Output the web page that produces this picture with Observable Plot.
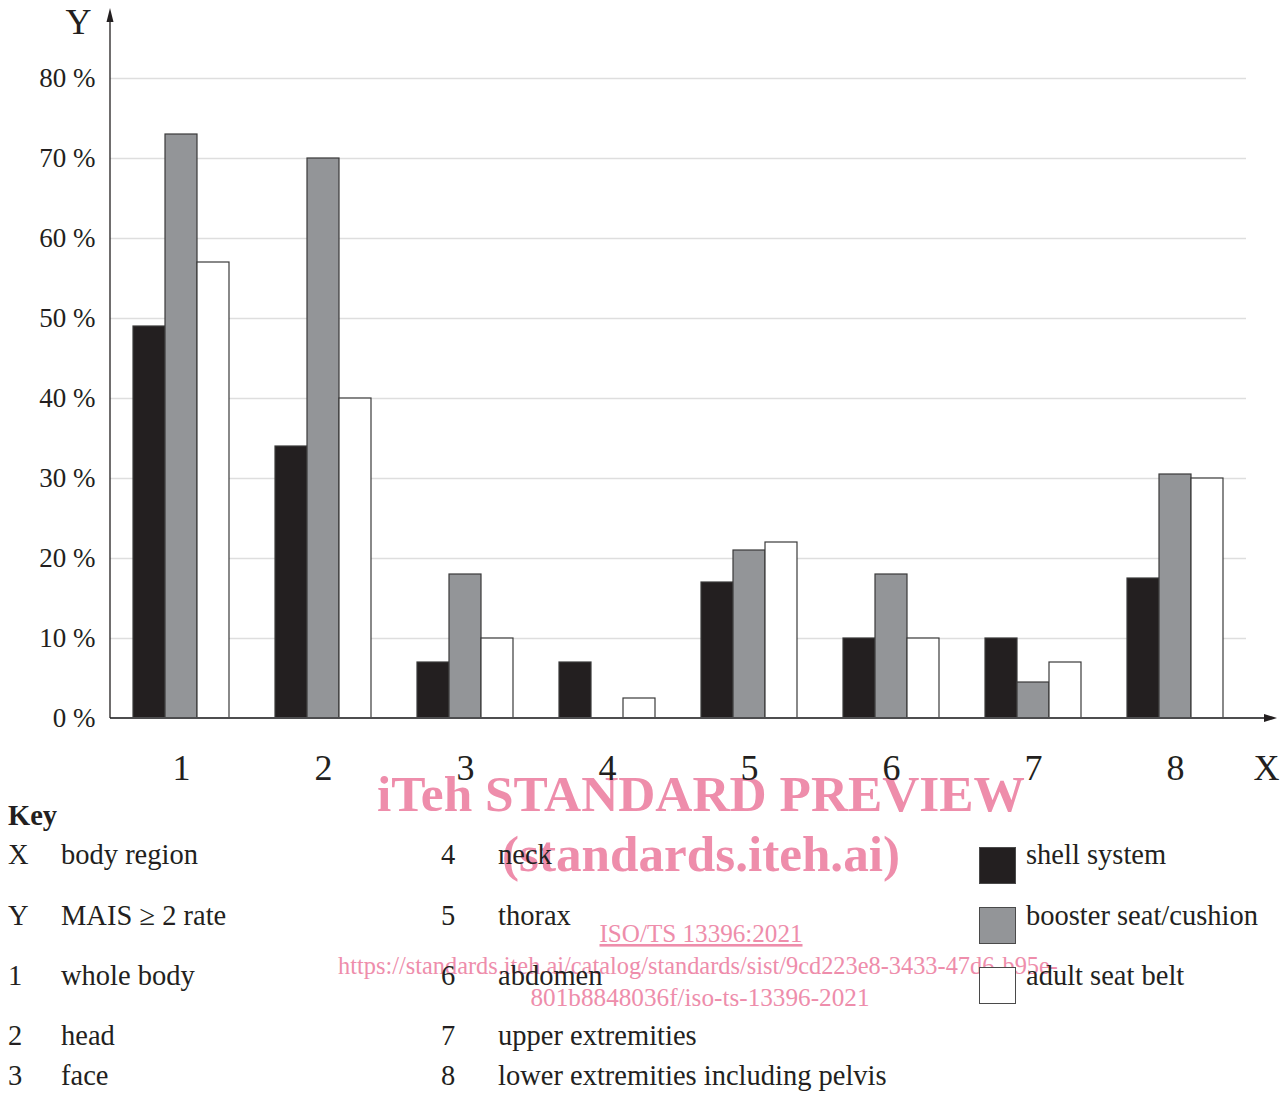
<!DOCTYPE html>
<html><head><meta charset="utf-8">
<script src="https://cdn.jsdelivr.net/npm/d3@7"></script>
<script src="https://cdn.jsdelivr.net/npm/@observablehq/plot@0.6"></script>
<style>
body{margin:0;background:#fff;}
#wrap{position:relative;width:1283px;height:1095px;overflow:hidden;font-family:"Liberation Serif",serif;color:#231f20;}
.layer{position:absolute;left:0;top:0;}
.k{position:absolute;font-size:28.5px;line-height:1;white-space:nowrap;transform:translateY(-50%);}
.sw{position:absolute;width:35px;height:35px;border:1.5px solid #4a4a4a;}
</style></head><body><div id="wrap"></div>
<script>
// ---- data ----
const groups = ["1","2","3","4","5","6","7","8"];
const seriesNames = ["shell system","booster seat/cushion","adult seat belt"];
const shellSystem = [49, 34, 7, 7, 17, 10, 10, 17.5];
const boosterSeat = [73, 70, 18, 0, 21, 18, 4.5, 30.5];
const adultSeatBelt = [57, 40, 10, 2.5, 22, 10, 7, 30];
const seriesColors = ["#231f20", "#939598", "#ffffff"];
const yTicks = [0, 10, 20, 30, 40, 50, 60, 70, 80];
const xAxisLabel = "X";
const yAxisLabel = "Y";
const keyTitle = "Key";
const keyLeftSymbols = ["X", "Y", "1", "2", "3"];
const keyLeftLabels = ["body region", "MAIS \u2265 2 rate", "whole body", "head", "face"];
const keyMidSymbols = ["4", "5", "6", "7", "8"];
const keyMidLabels = ["neck", "thorax", "abdomen", "upper extremities", "lower extremities including pelvis"];
const watermark1 = "iTeh STANDARD PREVIEW";
const watermark2 = "(standards.iteh.ai)";
const watermark3 = "ISO/TS 13396:2021";
const watermark4 = "https://standards.iteh.ai/catalog/standards/sist/9cd223e8-3433-47d6-b95e-";
const watermark5 = "801b8848036f/iso-ts-13396-2021";

const valuesBySeries = [shellSystem, boosterSeat, adultSeatBelt];
const rows = groups.flatMap((g, i) => seriesNames.map((s, j) => ({group: g, series: s, value: valuesBySeries[j][i]})));

const wrap = document.getElementById("wrap");
const W = 1283, H = 800;
const common = {width: W, height: H, marginLeft: 110, marginRight: 37, marginTop: 10, marginBottom: 82};
const xOpts = {domain: groups, paddingInner: 0.324, paddingOuter: 0.162, align: 0.5, round: false};
const yOpts = {domain: [0, 88.5], axis: null};
const ink = "#231f20";

// watermark (bottom layer: the chart's own texts sit on top of it)
{
  const svg = d3.select(wrap).append("svg").attr("class", "layer").attr("width", W).attr("height", 1095).style("pointer-events", "none");
  const pink = "#ee8dab";
  const t = (txt, x, y, size, len, bold, underline) => {
    const e = svg.append("text").attr("x", x).attr("y", y).attr("font-family", "Liberation Serif").attr("font-size", size)
      .attr("fill", pink).attr("text-anchor", "middle").attr("textLength", len).attr("lengthAdjust", "spacingAndGlyphs").text(txt);
    if (bold) e.attr("font-weight", "bold");
    if (underline) e.attr("text-decoration", "underline");
  };
  t(watermark1, 701, 811, 50, 648, true, false);
  t(watermark2, 701, 871, 50, 398, true, false);
  t(watermark3, 701, 942, 26, 203, false, true);
  t(watermark4, 698, 974, 26, 720, false, false);
  t(watermark5, 700, 1006, 26, 339, false, false);
}

// background layer: grid, tick labels, axis titles
const bg = Plot.plot({
  ...common,
  x: {...xOpts, axis: null},
  y: yOpts,
  style: {fontFamily: "Liberation Serif", background: "transparent", color: ink},
  marks: [
    Plot.ruleY(yTicks.filter(d => d > 0), {y: d => d, stroke: "#dedede", strokeWidth: 1.5}),
    Plot.text(yTicks, {y: d => d, frameAnchor: "left", dx: -15, textAnchor: "end", text: d => `${d} %`, fontSize: 27, fill: ink}),
    Plot.text(groups, {x: d => d, frameAnchor: "bottom", dy: 50, lineAnchor: "middle", text: d => d, fontSize: 36, fill: ink}),
    Plot.text([xAxisLabel], {frameAnchor: "bottom-right", dx: 20, dy: 50, textAnchor: "middle", lineAnchor: "middle", text: d => d, fontSize: 36, fill: ink}),
    Plot.text([yAxisLabel], {frameAnchor: "top-left", dx: -32, dy: 12, textAnchor: "middle", lineAnchor: "middle", text: d => d, fontSize: 36, fill: ink})
  ]
});
bg.classList.add("layer");
wrap.appendChild(bg);

// bars layer (faceted by body region)
const fg = Plot.plot({
  ...common,
  facet: {data: rows, x: "group"},
  fx: {...xOpts, axis: null, label: null},
  x: {domain: seriesNames, padding: 0, round: false, axis: null},
  y: yOpts,
  color: {domain: seriesNames, range: seriesColors},
  style: {background: "transparent"},
  marks: [
    Plot.barY(rows, {x: "series", y: "value", fill: "series", stroke: "#3a3a3a", strokeWidth: 1.2})
  ]
});
fg.classList.add("layer");
wrap.appendChild(fg);

// axis lines with arrowheads, positioned from the scales
{
  const ys = fg.scale("y"), fxs = fg.scale("fx");
  const y0 = ys.apply(0), yTop = ys.range[1], x0 = fxs.range[0], xEnd = W - 6;
  const svg = d3.select(fg);
  svg.append("line").attr("x1", x0).attr("x2", xEnd - 10).attr("y1", y0).attr("y2", y0).attr("stroke", "#4d4d4f").attr("stroke-width", 2);
  svg.append("polygon").attr("points", `${xEnd},${y0} ${xEnd - 13},${y0 - 4} ${xEnd - 13},${y0 + 4}`).attr("fill", ink);
  svg.append("line").attr("x1", x0).attr("x2", x0).attr("y1", y0).attr("y2", yTop + 10).attr("stroke", ink).attr("stroke-width", 1.3);
  svg.append("polygon").attr("points", `${x0},${yTop - 2} ${x0 - 3.5},${yTop + 12} ${x0 + 3.5},${yTop + 12}`).attr("fill", ink);
}

// key
function addText(txt, x, y, extra = "") {
  const d = document.createElement("div");
  d.className = "k";
  d.style.left = x + "px";
  d.style.top = y + "px";
  if (extra) d.style.cssText += extra;
  d.textContent = txt;
  wrap.appendChild(d);
}
addText(keyTitle, 8, 816, "font-weight:bold;");
const leftRows = [855, 916, 976, 1036, 1076];
keyLeftSymbols.forEach((s, i) => { addText(s, 8, leftRows[i]); addText(keyLeftLabels[i], 61, leftRows[i]); });
keyMidSymbols.forEach((s, i) => { addText(s, 441, leftRows[i]); addText(keyMidLabels[i], 498, leftRows[i]); });
seriesNames.forEach((s, i) => {
  const sw = document.createElement("div");
  sw.className = "sw";
  sw.style.left = "979px";
  sw.style.top = (847 + i * 60) + "px";
  sw.style.background = seriesColors[i];
  wrap.appendChild(sw);
  addText(s, 1026, leftRows[i]);
});
</script></body></html>
